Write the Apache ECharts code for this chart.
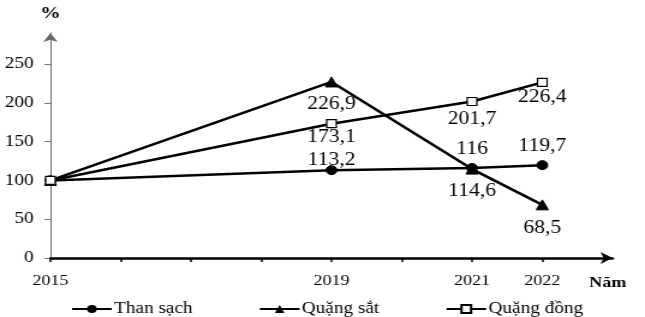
<!DOCTYPE html>
<html>
<head>
<meta charset="utf-8">
<script src="https://cdn.jsdelivr.net/npm/echarts@6/dist/echarts.min.js"></script>
<style>
  html, body { margin: 0; padding: 0; background: #fff; overflow: hidden; }
  #chart { width: 537px; height: 317px; transform: scaleX(1.2011); transform-origin: 0 0; }
</style>
</head>
<body>
<div id="chart"></div>
<script>
const years = [2015, 2019, 2021, 2022];
const thanSach = [100, 113.2, 116, 119.7];
const quangSat = [100, 226.9, 114.6, 68.5];
const quangDong = [100, 173.1, 201.7, 226.4];
const xTickYears = [2015, 2016, 2017, 2018, 2019, 2020, 2021, 2022];
const xLabelYears = [2015, 2019, 2021, 2022];
const yTicks = [0, 50, 100, 150, 200, 250];
const seriesNames = ['Than sạch', 'Quặng sắt', 'Quặng đồng'];

const FONT = '"Liberation Serif", "Times New Roman", serif';
const chart = echarts.init(document.getElementById('chart'), null, { renderer: 'canvas' });

function build(vals, offsets) {
  return years.map((y, i) => ({
    value: [y, vals[i]],
    label: { show: i > 0, offset: [0, offsets[i]] }
  }));
}
const fmt = p => String(p.value[1]).replace('.', ',');
const labelBase = {
  show: true, position: 'inside', formatter: fmt,
  color: '#000', fontFamily: FONT, fontSize: 18
};

chart.setOption({
  animation: false,
  grid: { left: 42, right: 27, top: 33, bottom: 59, containLabel: false },
  legend: {
    data: seriesNames,
    left: 54, top: 296,
    itemWidth: 33, itemHeight: 10, itemGap: 55,
    textStyle: { fontFamily: FONT, fontSize: 16, color: '#000', padding: [0, 0, 0, -3] }
  },
  xAxis: {
    type: 'value', min: 2015, max: 2023, interval: 1,
    name: 'Năm', nameLocation: 'end', nameGap: -4,
    nameTextStyle: { fontFamily: FONT, fontSize: 15, fontWeight: 'bold', color: '#000',
      align: 'center', verticalAlign: 'top', padding: [18, 0, 0, 0] },
    axisLine: { lineStyle: { color: '#000', width: 2.5 }, symbol: ['none', 'arrow'], symbolSize: [9, 10] },
    axisTick: { show: true, customValues: xTickYears, length: 4, lineStyle: { color: '#000', width: 1.5 } },
    axisLabel: { customValues: xLabelYears, formatter: v => String(v), margin: 16,
      fontFamily: FONT, fontSize: 15, color: '#000' },
    splitLine: { show: false }
  },
  yAxis: {
    type: 'value', min: 0, max: 290, interval: 50,
    name: '%', nameLocation: 'end', nameGap: 11,
    nameTextStyle: { fontFamily: FONT, fontSize: 17, fontWeight: 'bold', color: '#000', align: 'center' },
    axisLine: { show: true, lineStyle: { color: '#666', width: 1 }, symbol: ['none', 'arrow'], symbolSize: [9, 9] },
    axisTick: { show: true, customValues: yTicks, length: 5, lineStyle: { color: '#777', width: 1 } },
    axisLabel: { customValues: yTicks, margin: 14, fontFamily: FONT, fontSize: 16, color: '#000' },
    splitLine: { show: false }
  },
  series: [
    {
      name: seriesNames[0], type: 'line', symbol: 'circle', symbolSize: 9,
      lineStyle: { color: '#000', width: 2.5 }, itemStyle: { color: '#000', borderColor: '#000' },
      label: labelBase, z: 2,
      data: build(thanSach, [0, -10, -19, -19])
    },
    {
      name: seriesNames[1], type: 'line', symbol: 'triangle', symbolSize: 10,
      lineStyle: { color: '#000', width: 2.5 }, itemStyle: { color: '#000', borderColor: '#000' },
      label: labelBase, z: 3,
      data: build(quangSat, [0, 22, 22, 23])
    },
    {
      name: seriesNames[2], type: 'line', symbol: 'rect', symbolSize: 8,
      lineStyle: { color: '#000', width: 2.5 },
      itemStyle: { color: '#fff', borderColor: '#000', borderWidth: 1.2 },
      label: labelBase, z: 4,
      data: build(quangDong, [0, 14, 18, 15])
    }
  ]
});
</script>
</body>
</html>
